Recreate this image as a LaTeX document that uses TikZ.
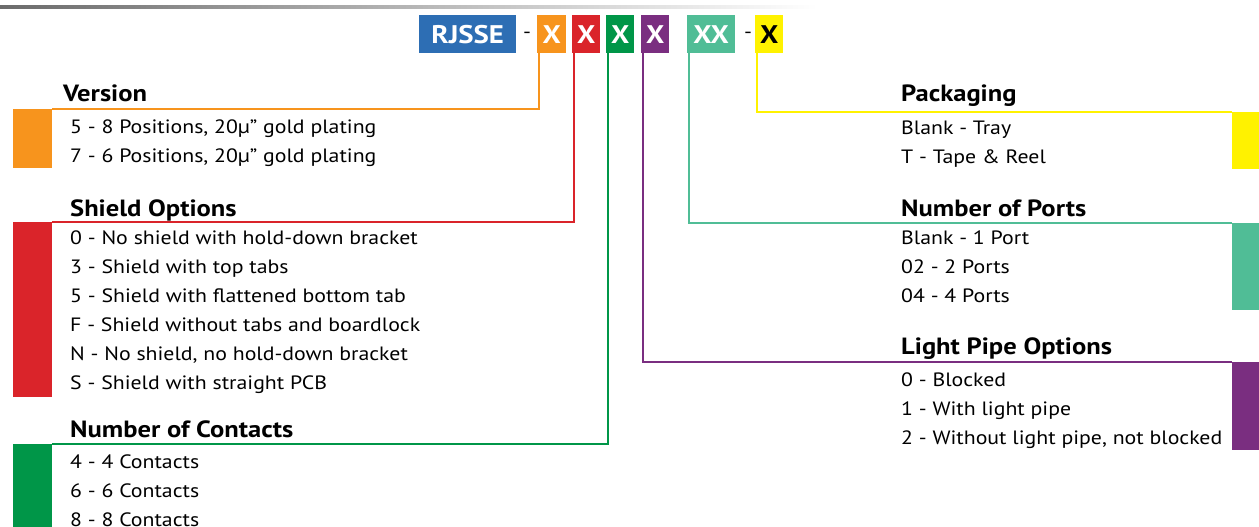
\documentclass[tikz,border=0pt]{standalone}
\usepackage{fontspec}
\setmainfont{PT Sans}[FakeStretch=1.13]
\usepackage{tikz}
\usetikzlibrary{positioning}
\definecolor{rjblue}{RGB}{45,110,180}
\definecolor{verorange}{RGB}{247,148,29}
\definecolor{shieldred}{RGB}{218,36,42}
\definecolor{contactgreen}{RGB}{0,150,72}
\definecolor{pipepurple}{RGB}{122,46,128}
\definecolor{portteal}{RGB}{80,189,150}
\definecolor{packyellow}{RGB}{255,242,0}

\begin{document}
\begin{tikzpicture}[x=1pt, y=-1pt,
    code/.style={anchor=north west, inner sep=0pt, minimum height=38pt,
                 text=white, font=\fontsize{25.5}{25}\selectfont\bfseries},
    hyph/.style={anchor=base, inner sep=0pt, font=\fontsize{19.5}{19}\selectfont},
    lblock/.style={anchor=north west, inner sep=0pt, minimum width=39pt},
    rblock/.style={anchor=north west, inner sep=0pt, minimum width=27pt},
    link/.style={line width=2pt},
    head/.style={anchor=base west, inner sep=0pt, font=\fontsize{23.5}{24}\selectfont\bfseries},
    item/.style={anchor=base west, inner sep=0pt, font=\fontsize{19.3}{20}\selectfont},
  ]
    \useasboundingbox (0,0) rectangle (1259,527);
    % grey rule along the top
    \shade[left color=black!58, right color=white] (0,6) rectangle (817,9);

    % part number boxes
    \node[code, fill=rjblue, minimum width=97pt]      (rj) at (419,15) {RJSSE};
    \node[hyph] (d1) at (527,39) {-};
    \node[code, fill=verorange, minimum width=29pt]   (xv) at (537,15) {X};
    \node[code, fill=shieldred, minimum width=28pt]   (xs) at (572,15) {X};
    \node[code, fill=contactgreen, minimum width=28pt] (xc) at (606,15) {X};
    \node[code, fill=pipepurple, minimum width=28pt]  (xl) at (641,15) {X};
    \node[code, fill=portteal, minimum width=48pt]    (xp) at (687,15) {XX};
    \node[hyph] (d2) at (748,39) {-};
    \node[code, fill=packyellow, minimum width=28pt, text=black] (xk) at (755,15) {X};

    % colour blocks
    \node[lblock, fill=verorange, minimum height=59pt]     (verblk) at (13,109) {};
    \node[lblock, fill=shieldred, minimum height=175pt]    (shblk)  at (13,222) {};
    \node[lblock, fill=contactgreen, minimum height=83pt]  (coblk)  at (13,444) {};
    \node[rblock, fill=packyellow, minimum height=57pt]    (pkblk)  at (1232,112) {};
    \node[rblock, fill=portteal, minimum height=87pt]      (poblk)  at (1232,223) {};
    \node[rblock, fill=pipepurple, minimum height=88pt]    (lpblk)  at (1232,362) {};

    % leader lines
    \draw[link, verorange]    ([xshift=2pt]xv.south west) |- (verblk.north east);
    \draw[link, shieldred]    ([xshift=2pt]xs.south west) |- (shblk.north east);
    \draw[link, contactgreen] ([xshift=2pt]xc.south west) |- (coblk.north east);
    \draw[link, pipepurple]   ([xshift=2pt]xl.south west) |- (lpblk.north west);
    \draw[link, portteal]     ([xshift=2pt]xp.south west) |- (poblk.north west);
    \draw[link, packyellow]   ([xshift=2pt]xk.south west) |- (pkblk.north west);

    % left column
    \node[head] (verh) at (63,101) {Version};
    \foreach \t [count=\i from 0] in {{5 - 8 Positions, 20µ” gold plating},
        {7 - 6 Positions, 20µ” gold plating}}
      \node[item] (ver\i) at (70,133+29*\i) {\t};
    \node[head] (shh) at (70,216) {Shield Options};
    \foreach \t [count=\i from 0] in {0 - No shield with hold-down bracket,
        3 - Shield with top tabs, 5 - Shield with flattened bottom tab,
        F - Shield without tabs and boardlock, {N - No shield, no hold-down bracket},
        S - Shield with straight PCB}
      \node[item] (sh\i) at (70,244+29*\i) {\t};
    \node[head] (coh) at (70,437) {Number of Contacts};
    \foreach \t [count=\i from 0] in {4 - 4 Contacts, 6 - 6 Contacts, 8 - 8 Contacts}
      \node[item] (co\i) at (70,468.5+29*\i) {\t};

    % right column
    \node[head] (pkh) at (901,102) {Packaging};
    \foreach \t [count=\i from 0] in {Blank - Tray, T - Tape \& Reel}
      \node[item] (pk\i) at (901,134.5+29*\i) {\t};
    \node[head] (poh) at (901,216) {Number of Ports};
    \foreach \t [count=\i from 0] in {Blank - 1 Port, 02 - 2 Ports, 04 - 4 Ports}
      \node[item] (po\i) at (901,244.5+29*\i) {\t};
    \node[head] (lph) at (901,354) {Light Pipe Options};
    \foreach \t [count=\i from 0] in {0 - Blocked, 1 - With light pipe,
        {2 - Without light pipe, not blocked}}
      \node[item] (lp\i) at (901,386.5+29*\i) {\t};
  \end{tikzpicture}
\end{document}
